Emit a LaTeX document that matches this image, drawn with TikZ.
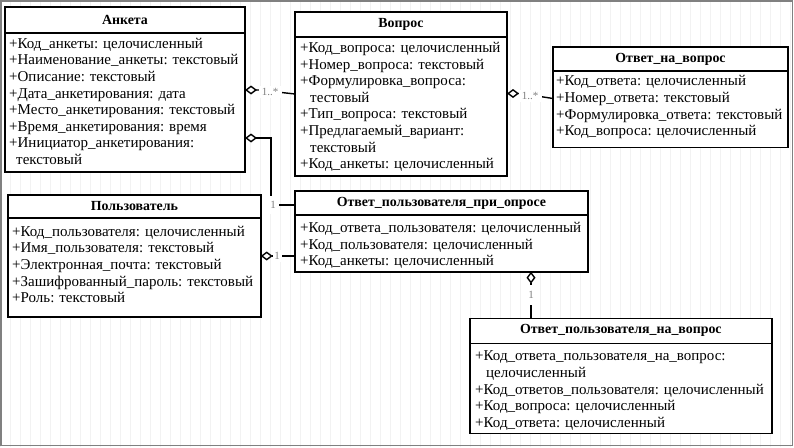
\documentclass[tikz,border=0pt]{standalone}
\usepackage{fontspec}
\setmainfont{Liberation Serif}
\usetikzlibrary{arrows.meta}
\begin{document}
\begin{tikzpicture}[x=1pt,y=-1pt,
  clsbox/.style={draw, line width=1.6pt, fill=white, outer sep=0pt, inner sep=0pt, anchor=north west},
  hdr/.style={clsbox, font=\fontsize{13.9}{16}\selectfont\bfseries},
  attr/.style={anchor=north west, inner sep=0pt, align=left, font=\fontsize{15}{16.6}\selectfont},
  mult/.style={fill=white, inner sep=1pt, text=black!50, font=\fontsize{11}{12}\selectfont},
  conn/.style={line width=1.4pt},
  agg/.style={{Diamond[open, fill=white, length=12pt, width=9pt, line width=1.4pt]}-}
]
\useasboundingbox (0,0) rectangle (794,447);
\fill[white] (0,0) rectangle (794,447);
\draw[step=10, black!5, line width=0.3pt] (0,0) grid (794,447);
\draw[black!50, line width=1.5pt] (1,1) rectangle (792.5,445.5);

% Анкета
\node[hdr, minimum width=240, minimum height=26] (anketaH) at (5,7) {Анкета};
\node[clsbox, minimum width=240, minimum height=139] (anketaB) at (anketaH.south west) {};
\node[attr] (anketaT) at (9,36.4) {\strut+Код\_анкеты: целочисленный\\
\strut+Наименование\_анкеты: текстовый\\
\strut+Описание: текстовый\\
\strut+Дата\_анкетирования: дата\\
\strut+Место\_анкетирования: текстовый\\
\strut+Время\_анкетирования: время\\
\strut+Инициатор\_анкетирования:\\
\strut\hspace*{7pt}текстовый};

% Вопрос
\node[hdr, minimum width=212, minimum height=24.7] (voprosH) at (295,12) {Вопрос};
\node[clsbox, minimum width=212, minimum height=139] (voprosB) at (voprosH.south west) {};
\node[attr] (voprosT) at (300,40.7) {\strut+Код\_вопроса: целочисленный\\
\strut+Номер\_вопроса: текстовый\\
\strut+Формулировка\_вопроса:\\
\strut\hspace*{10pt}тестовый\\
\strut+Тип\_вопроса: текстовый\\
\strut+Предлагаемый\_вариант:\\
\strut\hspace*{10pt}текстовый\\
\strut+Код\_анкеты: целочисленный};

% Ответ_на_вопрос
\node[hdr, minimum width=235, minimum height=24] (otvetH) at (553,47) {Ответ\_на\_вопрос};
\node[clsbox, minimum width=235, minimum height=76.5] (otvetB) at (otvetH.south west) {};
\node[attr] (otvetT) at (556,74.1) {\strut+Код\_ответа: целочисленный\\
\strut+Номер\_ответа: текстовый\\
\strut+Формулировка\_ответа: текстовый\\
\strut+Код\_вопроса: целочисленный};

% Пользователь
\node[hdr, minimum width=252.7, minimum height=22.7] (polzH) at (8,195) {Пользователь};
\node[clsbox, minimum width=252.7, minimum height=99] (polzB) at (polzH.south west) {};
\node[attr] (polzT) at (12,224.4) {\strut+Код\_пользователя: целочисленный\\
\strut+Имя\_пользователя: текстовый\\
\strut+Электронная\_почта: текстовый\\
\strut+Зашифрованный\_пароль: текстовый\\
\strut+Роль: текстовый};

% Ответ_пользователя_при_опросе
\node[hdr, minimum width=293, minimum height=24] (priH) at (295,191) {Ответ\_пользователя\_при\_опросе};
\node[clsbox, minimum width=293, minimum height=56.7] (priB) at (priH.south west) {};
\node[attr] (priT) at (300,220.7) {\strut+Код\_ответа\_пользователя: целочисленный\\
\strut+Код\_пользователя: целочисленный\\
\strut+Код\_анкеты: целочисленный};

% Ответ_пользователя_на_вопрос
\node[hdr, minimum width=301.7, minimum height=25] (navH) at (470,318.3) {Ответ\_пользователя\_на\_вопрос};
\node[clsbox, minimum width=301.7, minimum height=90] (navB) at (navH.south west) {};
\node[attr] (navT) at (475,349.1) {\strut+Код\_ответа\_пользователя\_на\_вопрос:\\
\strut\hspace*{11pt}целочисленный\\
\strut+Код\_ответов\_пользователя: целочисленный\\
\strut+Код\_вопроса: целочисленный\\
\strut+Код\_ответа: целочисленный};

% connectors
\draw[conn, agg] (anketaB.east |- 0,90) -- ++(14,0) -- (voprosB.west |- 0,94);
\node[mult, minimum width=23, minimum height=12] (m1) at (270,92) {1..*};

\draw[conn, agg] (voprosB.east |- 0,93.5) -- ++(14,0) -- (otvetB.west |- 0,98.5);
\node[mult, minimum width=23, minimum height=12] (m2) at (530,96) {1..*};

\draw[conn, agg] (anketaB.east |- 0,138) -- ++(26,0) |- (priH.west |- 0,205);
\node[mult, minimum width=11, minimum height=18] (m3) at (273,205) {1};

\draw[conn, agg] (polzB.east |- 0,256) -- (priB.west |- 0,256);
\node[mult, minimum width=9, minimum height=12] (m4) at (277,256) {1};

\draw[conn, agg] (priB.south -| 531,0) -- (navH.north -| 531,0);
\node[mult, minimum width=10, minimum height=20] (m5) at (531,295) {1};
\end{tikzpicture}
\end{document}
